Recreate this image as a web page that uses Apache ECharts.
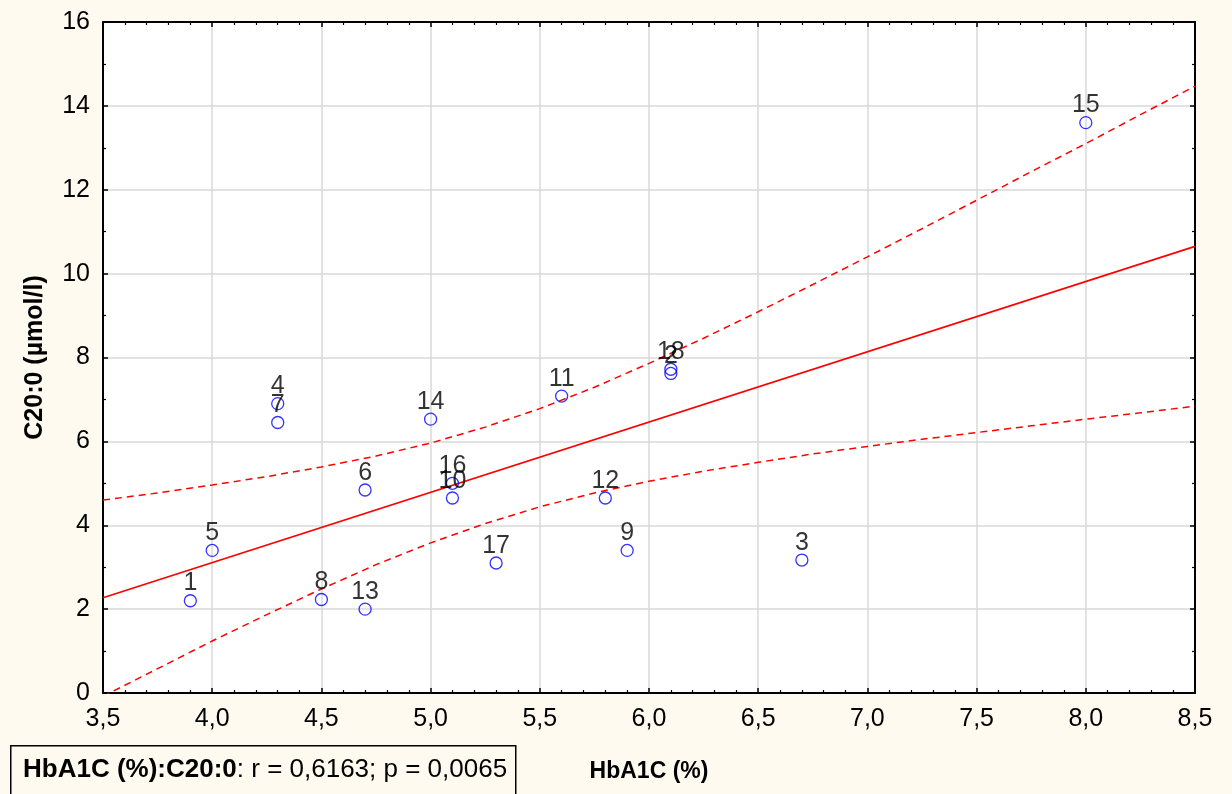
<!DOCTYPE html>
<html>
<head>
<meta charset="utf-8">
<script src="https://cdn.jsdelivr.net/npm/echarts@6/dist/echarts.min.js"></script>
<style>
  html, body { margin: 0; padding: 0; background: #fffaf0; }
  #chart { width: 1232px; height: 794px; }
</style>
</head>
<body>
<div id="chart"></div>
<script>
// Case numbers and measured values (HbA1C %, C20:0 µmol/l)
const pointIds = ['1','2','3','4','5','6','7','8','9','10','11','12','13','14','15','16','17','18'];
const hba1c = [3.9, 6.1, 6.7, 4.3, 4.0, 4.7, 4.3, 4.5, 5.9, 5.1, 5.6, 5.8, 4.7, 5.0, 8.0, 5.1, 5.3, 6.1];
const c20 = [2.2, 7.62, 3.17, 6.9, 3.4, 4.84, 6.45, 2.23, 3.4, 4.65, 7.08, 4.65, 2.0, 6.53, 13.6, 5.0, 3.1, 7.72];

// Fitted regression line (end points)
const fitX = [3.5, 8.5];
const fitY = [2.27, 10.65];

// 95% confidence band of the fit
const bandX = [3.5, 3.75, 4.0, 4.25, 4.5, 4.75, 5.0, 5.25, 5.5, 5.75, 6.0, 6.25, 6.5, 6.75, 7.0, 7.25, 7.5, 7.75, 8.0, 8.25, 8.5];
const bandUpper = [4.60, 4.77, 4.96, 5.16, 5.39, 5.65, 5.96, 6.34, 6.78, 7.29, 7.86, 8.46, 9.09, 9.74, 10.40, 11.07, 11.75, 12.43, 13.10, 13.79, 14.47];
const bandLower = [-0.08, 0.58, 1.24, 1.87, 2.48, 3.06, 3.58, 4.04, 4.44, 4.77, 5.05, 5.29, 5.50, 5.70, 5.88, 6.05, 6.21, 6.37, 6.53, 6.68, 6.84];

// Axis ranges and titles
const xRange = { min: 3.5, max: 8.5, step: 0.5 };
const yRange = { min: 0, max: 16, step: 2 };
const xTitle = 'HbA1C (%)';
const yTitle = 'C20:0 (µmol/l)';
const statPair = 'HbA1C (%):C20:0';
const statR = '0,6163';
const statP = '0,0065';

const FONT = '"Liberation Sans", Arial, sans-serif';

const pts = hba1c.map((x, i) => ({ value: [x, c20[i]], name: pointIds[i] }));
const fitData = fitX.map((x, i) => [x, fitY[i]]);
const upperData = bandX.map((x, i) => [x, bandUpper[i]]);
const lowerData = bandX.map((x, i) => [x, bandLower[i]]);

const chart = echarts.init(document.getElementById('chart'), null, { renderer: 'canvas' });

const frameLine = { show: true, onZero: false, lineStyle: { color: '#000', width: 2 } };
const tickIn = { show: true, inside: true, length: 5, lineStyle: { color: '#000', width: 1.5 } };

function xAxisBase(pos, showLabels) {
  return {
    type: 'value', position: pos,
    min: xRange.min, max: xRange.max, interval: xRange.step,
    axisLine: frameLine,
    axisTick: tickIn,
    minorTick: { show: true, splitNumber: 5, length: 3, lineStyle: { color: '#000', width: 1.2 } },
    splitLine: { show: showLabels, lineStyle: { color: '#d9d9d9', width: 1.5 } },
    axisLabel: {
      show: showLabels, color: '#000', fontFamily: FONT, fontSize: 25, margin: 14,
      formatter: v => v.toFixed(1).replace('.', ',')
    }
  };
}
function yAxisBase(pos, showLabels) {
  return {
    type: 'value', position: pos,
    min: yRange.min, max: yRange.max, interval: yRange.step,
    axisLine: frameLine,
    axisTick: tickIn,
    minorTick: { show: true, splitNumber: 2, length: 3, lineStyle: { color: '#000', width: 1.2 } },
    splitLine: { show: showLabels, lineStyle: { color: '#d9d9d9', width: 1.5 } },
    axisLabel: {
      show: showLabels, color: '#000', fontFamily: FONT, fontSize: 25, margin: 13,
      formatter: v => String(v)
    }
  };
}

const xMain = Object.assign(xAxisBase('bottom', true), {
  name: xTitle, nameLocation: 'middle', nameGap: 67,
  nameTextStyle: { fontFamily: FONT, fontWeight: 'bold', fontSize: 23, color: '#000' }
});
const yMain = Object.assign(yAxisBase('left', true), {
  name: yTitle, nameLocation: 'middle', nameGap: 55, nameRotate: 90,
  nameTextStyle: { fontFamily: FONT, fontWeight: 'bold', fontSize: 25, color: '#000' }
});

chart.setOption({
  animation: false,
  backgroundColor: '#fffaf0',
  grid: {
    left: 103, right: 37, top: 22, bottom: 101,
    show: true, backgroundColor: '#ffffff', borderWidth: 0
  },
  xAxis: [xMain, xAxisBase('top', false)],
  yAxis: [yMain, yAxisBase('right', false)],
  series: [
    {
      type: 'line', data: lowerData, symbol: 'none', smooth: false, clip: true,
      lineStyle: { color: '#ff0000', width: 1.5, type: [7, 5] }, z: 2, silent: true
    },
    {
      type: 'line', data: upperData, symbol: 'none', smooth: false, clip: true,
      lineStyle: { color: '#ff0000', width: 1.5, type: [7, 5] }, z: 2, silent: true
    },
    {
      type: 'line', data: fitData, symbol: 'none', clip: true,
      lineStyle: { color: '#ff0000', width: 1.6 }, z: 3, silent: true
    },
    {
      type: 'scatter', data: pts, symbol: 'circle', symbolSize: 12, z: 4,
      itemStyle: { color: 'rgba(255,255,255,0)', borderColor: '#0000ff', borderWidth: 1.3 },
      label: {
        show: true, position: 'top', distance: -2,
        formatter: p => p.name,
        color: '#000', fontFamily: FONT, fontSize: 25
      },
      labelLayout: { hideOverlap: false }
    }
  ],
  graphic: [
    {
      type: 'rect', left: 10, top: 745, z: 10,
      shape: { width: 505, height: 60 },
      style: { fill: '#fffaf0', stroke: '#000', lineWidth: 1.5 }
    },
    {
      type: 'text', left: 23, top: 757, z: 11,
      style: {
        text: '{b|' + statPair + '}{n|: r = ' + statR + '; p = ' + statP + '}',
        rich: {
          b: { fontFamily: FONT, fontWeight: 'bold', fontSize: 26, fill: '#000' },
          n: { fontFamily: FONT, fontSize: 26, fill: '#000' }
        }
      }
    }
  ]
});
</script>
</body>
</html>
